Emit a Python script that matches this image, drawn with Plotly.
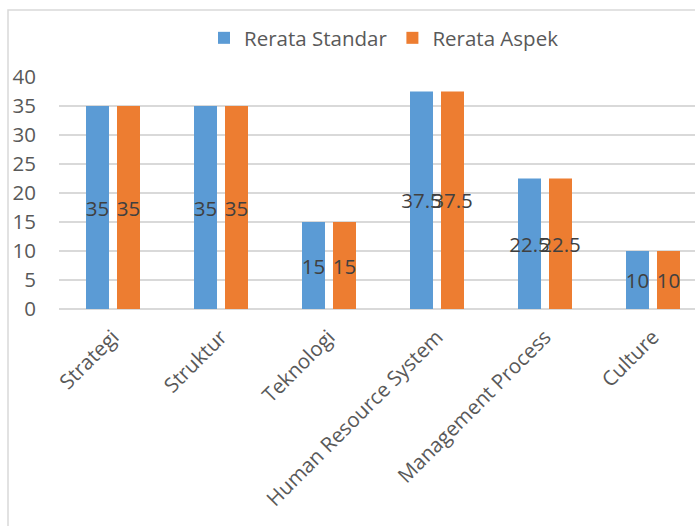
import plotly.graph_objects as go

categories = ["Strategi", "Struktur", "Teknologi", "Human Resource System", "Management Process", "Culture"]
rerata_standar = [35, 35, 15, 37.5, 22.5, 10]
rerata_aspek = [35, 35, 15, 37.5, 22.5, 10]
series_names = ["Rerata Standar", "Rerata Aspek"]
y_ticks = [0, 5, 10, 15, 20, 25, 30, 35, 40]

FONT = "Open Sans"
FS = 20.5
W, H = 695, 526
L, T, B = 59, 77, 217
plot_w = W - L
plot_h = H - T - B

fig = go.Figure()
for name, vals, col in [(series_names[0], rerata_standar, "#5B9BD5"),
                        (series_names[1], rerata_aspek, "#ED7D31")]:
    fig.add_trace(go.Bar(
        name=name, x=categories, y=vals, marker=dict(color=col, line=dict(width=0)),
        text=[f"{v:g}" for v in vals], textposition="inside", insidetextanchor="middle",
        textangle=0, cliponaxis=False,
        insidetextfont=dict(family=FONT, size=FS, color="#404040"),
    ))

slot = 108.0
xr_max = -0.5 + plot_w / slot

fig.update_layout(
    width=W, height=H,
    margin=dict(l=L, r=0, t=T, b=B, pad=0, autoexpand=False),
    paper_bgcolor="white", plot_bgcolor="white",
    barmode="group", bargap=0.426, bargroupgap=0.258,
    uniformtext=dict(minsize=FS, mode="show"),
    font=dict(family=FONT, color="#595959", size=FS),
    showlegend=True,
    legend=dict(orientation="h", x=(384 - L) / plot_w, xanchor="center",
                y=(H - B - 38) / plot_h, yanchor="middle",
                font=dict(family=FONT, size=FS, color="#595959"),
                bgcolor="rgba(0,0,0,0)", traceorder="normal"),
    xaxis=dict(range=[-0.5, xr_max], type="category", tickangle=-45, showgrid=False,
               showline=False, zeroline=False, ticks="", automargin=False,
               ticklabelstandoff=11,
               tickfont=dict(family=FONT, size=FS, color="#595959")),
    yaxis=dict(range=[0, 40], tickvals=y_ticks, showgrid=True, gridcolor="#D9D9D9",
               gridwidth=1.5, zeroline=True, zerolinecolor="#D9D9D9", zerolinewidth=1.5,
               showline=False, ticks="", ticklabelstandoff=22, automargin=False,
               tickfont=dict(family=FONT, size=FS, color="#595959")),
    shapes=[dict(type="rect", xref="paper", yref="paper",
                 x0=(8 - L) / plot_w, x1=1.2, y0=-(B + 20) / plot_h, y1=(H - B - 10) / plot_h,
                 line=dict(color="#D9D9D9", width=1.5), fillcolor="rgba(0,0,0,0)", layer="below")],
)

fig.write_html("out.html", config={"displayModeBar": False},
               post_script="document.body.style.margin='0';document.body.style.overflow='hidden';")
